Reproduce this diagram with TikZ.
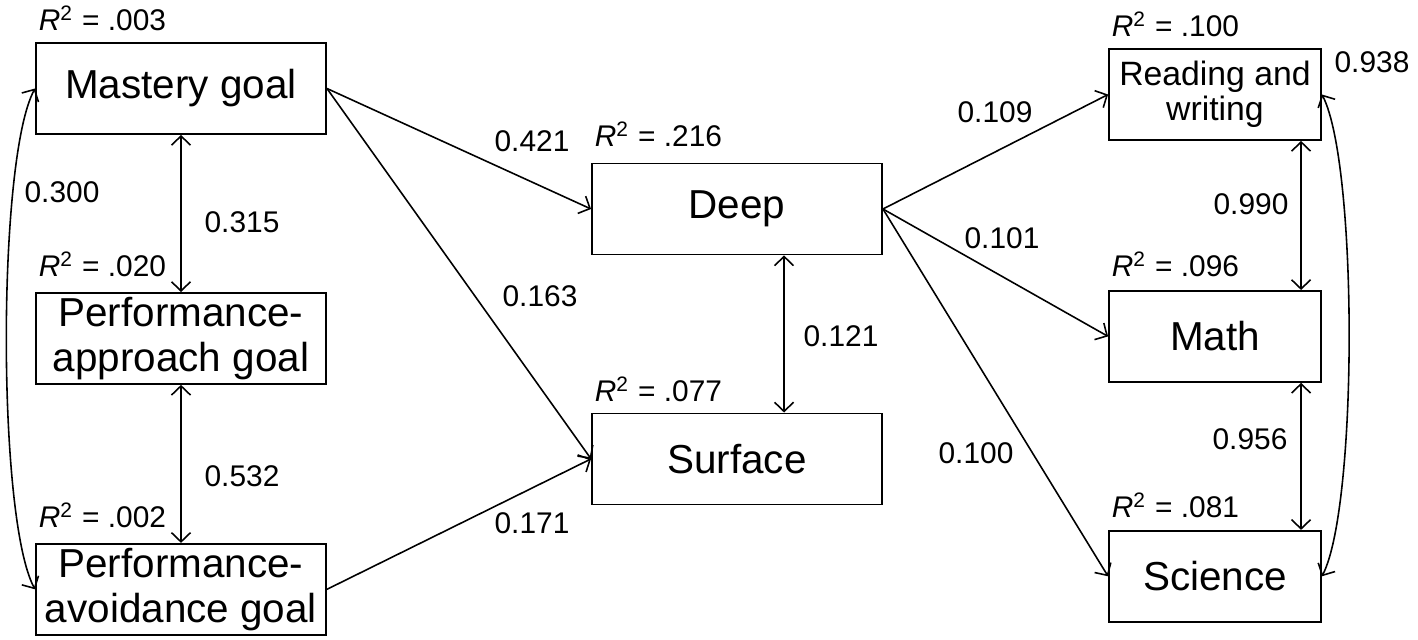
\documentclass[tikz,border=0pt]{standalone}
\usepackage{fontspec}
\setmainfont{Liberation Sans}
\usetikzlibrary{arrows.meta,positioning,calc}

\newcommand{\rtwo}[1]{\textit{R}\textsuperscript{2} = #1}

\tikzset{
    var/.style={draw, line width=0.5pt, minimum width=2.9cm, minimum height=0.91cm,
        align=center, inner sep=1pt, font=\fontsize{11.5}{12.7}\selectfont},
    outc/.style={var, minimum width=2.12cm},
    rsq/.style={inner sep=0pt, font=\fontsize{8.5}{10}\selectfont},
    coef/.style={inner sep=0pt, font=\fontsize{8.5}{10}\selectfont},
}

\begin{document}
\begin{tikzpicture}[x=0.01cm, y=-0.01cm, line width=0.45pt,
    >={Straight Barb[length=2.6pt,width=5.4pt]}]

    \useasboundingbox (0,0) rectangle (1418,639);

    % Goal orientations
    \node[var] (mastery) at (181,88.5) {Mastery goal};
    \node[var, below=1.57cm of mastery] (approach) {Performance-\\approach goal};
    \node[var, below=1.58cm of approach] (avoid) {Performance-\\avoidance goal};

    % Learning strategies
    \node[var] (deep) at (737,209) {Deep};
    \node[var, below=1.57cm of deep] (surface) {Surface};

    % Achievement
    \node[outc, font=\fontsize{9.6}{10}\selectfont] (reading) at (1215,94.5) {Reading and\\writing};
    \node[outc, below=1.49cm of reading] (math) {Math};
    \node[outc, below=1.47cm of math] (science) {Science};

    % Explained variance
    \foreach \n/\v/\g in {mastery/.003/0.11, approach/.020/0.14, avoid/.002/0.14,
        deep/.216/0.15, surface/.077/0.10,
        reading/.100/0.11, math/.096/0.12, science/.081/0.11}
        \node[rsq, above right=\g cm and 0.03cm of \n.north west] (r-\n) {\rtwo{\v}};

    % Paths
    \draw[->] (mastery.east) -- (deep.west);
    \draw[->] (mastery.east) -- (surface.west);
    \draw[->] (avoid.east) -- (surface.west);
    \draw[->] (deep.east) -- (reading.west);
    \draw[->] (deep.east) -- (math.west);
    \draw[->] (deep.east) -- (science.west);

    % Correlations
    \draw[<->] (mastery.south) -- (approach.north);
    \draw[<->] (approach.south) -- (avoid.north);
    \draw[<->] ([xshift=0.47cm]deep.south) -- ([xshift=0.47cm]surface.north);
    \draw[<->] ([xshift=0.86cm]reading.south) -- ([xshift=0.86cm]math.north);
    \draw[<->] ([xshift=0.86cm]math.south) -- ([xshift=0.86cm]science.north);
    \draw[<->] (mastery.west) .. controls +(-38,70) and +(-38,-70) .. (avoid.west);
    \draw[<->] (reading.east) .. controls +(36,70) and +(36,-70) .. (science.east);

    % Coefficients
    \node[coef] (c-ma) at (62,192) {0.300};
    \node[coef] (c-mp) at (242,222) {0.315};
    \node[coef] (c-pa) at (242,476) {0.532};
    \node[coef] (c-md) at (532,141) {0.421};
    \node[coef] (c-ms) at (540,296) {0.163};
    \node[coef] (c-as) at (532,523) {0.171};
    \node[coef] (c-ds) at (841,336) {0.121};
    \node[coef] (c-dr) at (995,112) {0.109};
    \node[coef] (c-dm) at (1002,238) {0.101};
    \node[coef] (c-dc) at (976,453) {0.100};
    \node[coef] (c-rm) at (1251,204) {0.990};
    \node[coef] (c-mc) at (1250,439) {0.956};
    \node[coef] (c-rc) at (1372,62) {0.938};

\end{tikzpicture}
\end{document}
